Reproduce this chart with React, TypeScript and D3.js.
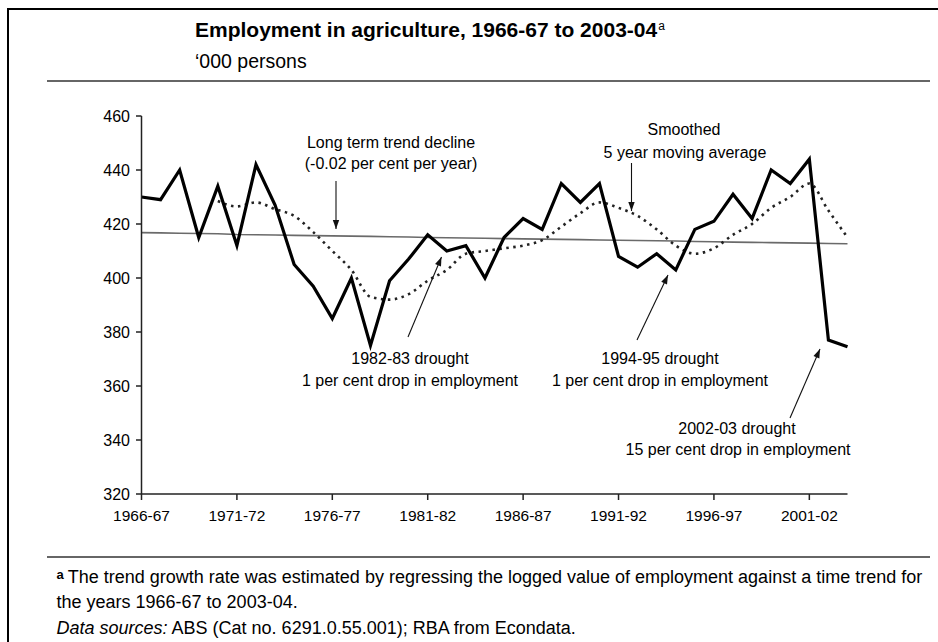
import React from "react";
import * as d3 from "d3";

const years = [
  "1966-67","1967-68","1968-69","1969-70","1970-71","1971-72","1972-73","1973-74","1974-75","1975-76",
  "1976-77","1977-78","1978-79","1979-80","1980-81","1981-82","1982-83","1983-84","1984-85","1985-86",
  "1986-87","1987-88","1988-89","1989-90","1990-91","1991-92","1992-93","1993-94","1994-95","1995-96",
  "1996-97","1997-98","1998-99","1999-00","2000-01","2001-02","2002-03","2003-04",
];

const employment = [
  430, 429, 440, 415, 434, 412, 442, 427, 405, 397,
  385, 400, 375, 399, 407, 416, 410, 412, 400, 415,
  422, 418, 435, 428, 435, 408, 404, 409, 403, 418,
  421, 431, 422, 440, 435, 444, 377, 374.5,
];

const movingAverage: (number | null)[] = [
  null, null, null, null,
  428.5, 426.5, 428, 425.5, 423, 417, 410, 403, 393, 392,
  394, 399, 403, 409, 410, 411, 412, 414, 419, 424,
  428, 426, 423, 418, 412, 409, 411, 416, 420, 426,
  430, 435, 425, 415,
];

const trend = [
  416.8, 416.7, 416.6, 416.5, 416.4, 416.1, 416.0, 415.9, 415.8, 415.7,
  415.6, 415.5, 415.4, 415.3, 415.2, 415.0, 414.9, 414.8, 414.7, 414.6,
  414.5, 414.4, 414.3, 414.2, 414.1, 414.0, 413.9, 413.8, 413.7, 413.5,
  413.4, 413.3, 413.2, 413.1, 413.0, 412.9, 412.8, 412.7,
];

const xTickLabels = ["1966-67","1971-72","1976-77","1981-82","1986-87","1991-92","1996-97","2001-02"];
const yTicks = [320, 340, 360, 380, 400, 420, 440, 460];

const FONT = "'Liberation Sans', Arial, Helvetica, sans-serif";

export default function App() {
  const W = 938, H = 642;
  const x = d3.scalePoint<string>().domain(years).range([141.5, 847.5]);
  const y = d3.scaleLinear().domain([320, 460]).range([494, 116]);

  const lineStraight = d3.line<number>()
    .x((_, i) => x(years[i]) as number)
    .y((d) => y(d));

  const maPts = movingAverage
    .map((v, i) => ({ v, i }))
    .filter((d) => d.v !== null) as { v: number; i: number }[];
  const maLine = d3.line<{ v: number; i: number }>()
    .x((d) => x(years[d.i]) as number)
    .y((d) => y(d.v))
    .curve(d3.curveMonotoneX);

  const arrows = [
    { x1: 336, y1: 181, x2: 336, y2: 229 },
    { x1: 631.5, y1: 163, x2: 631.5, y2: 211 },
    { x1: 408, y1: 337, x2: 441.5, y2: 257 },
    { x1: 637, y1: 340, x2: 668, y2: 275 },
    { x1: 790, y1: 418, x2: 820, y2: 349 },
  ];

  const arrowHead = (a: { x1: number; y1: number; x2: number; y2: number }) => {
    const ang = Math.atan2(a.y2 - a.y1, a.x2 - a.x1);
    const len = 9, half = 3.2;
    const bx = a.x2 - len * Math.cos(ang), by = a.y2 - len * Math.sin(ang);
    const px = -Math.sin(ang) * half, py = Math.cos(ang) * half;
    return `M${a.x2},${a.y2}L${bx + px},${by + py}L${bx - px},${by - py}Z`;
  };

  const annotations = [
    { x: 391, y: 142, t: "Long term trend decline" },
    { x: 391, y: 163.5, t: "(-0.02 per cent per year)" },
    { x: 684, y: 129, t: "Smoothed" },
    { x: 685, y: 152, t: "5 year moving average" },
    { x: 410, y: 358, t: "1982-83 drought" },
    { x: 410, y: 380, t: "1 per cent drop in employment" },
    { x: 660, y: 358, t: "1994-95 drought" },
    { x: 660, y: 380, t: "1 per cent drop in employment" },
    { x: 737, y: 428, t: "2002-03 drought" },
    { x: 738, y: 449, t: "15 per cent drop in employment" },
  ];

  return (
    <svg
      width={W}
      height={H}
      viewBox={`0 0 ${W} ${H}`}
      style={{ position: "fixed", left: 0, top: 0, background: "#fff" }}
      fontFamily={FONT}
    >
      <rect x={0} y={0} width={W} height={H} fill="#fff" />
      {/* frame */}
      <path d={`M8,${H}L8,9L${W + 2},9`} fill="none" stroke="#000" strokeWidth={2} />

      {/* title */}
      <text x={195} y={37} fontSize={21} fontWeight="bold" fill="#000">
        Employment in agriculture, 1966-67 to 2003-04
        <tspan fontSize={12} fontWeight="normal" dy={-7} dx={1}>a</tspan>
      </text>
      <text x={195} y={68} fontSize={19.5} fill="#000">‘000 persons</text>
      <line x1={47} x2={930} y1={81} y2={81} stroke="#333" strokeWidth={1.5} />

      {/* trend line */}
      <path d={lineStraight(trend) || ""} fill="none" stroke="#6a6a6a" strokeWidth={1.6} />
      {/* moving average */}
      <path
        d={maLine(maPts) || ""}
        fill="none"
        stroke="#222"
        strokeWidth={2.6}
        strokeDasharray="2.5,4.5"
      />
      {/* employment */}
      <path
        d={lineStraight(employment) || ""}
        fill="none"
        stroke="#000"
        strokeWidth={3.2}
        strokeLinejoin="miter"
      />

      {/* axes */}
      <line x1={141.5} x2={141.5} y1={116} y2={494} stroke="#222" strokeWidth={1.5} />
      <line x1={141.5} x2={847.5} y1={494} y2={494} stroke="#222" strokeWidth={1.5} />
      {yTicks.map((t) => (
        <g key={t}>
          <line x1={136} x2={141.5} y1={y(t)} y2={y(t)} stroke="#222" strokeWidth={1.5} />
          <text x={130} y={y(t)} dy="0.35em" textAnchor="end" fontSize={16} fill="#000">
            {t}
          </text>
        </g>
      ))}
      {xTickLabels.map((t) => (
        <g key={t}>
          <line x1={x(t)} x2={x(t)} y1={494} y2={500} stroke="#222" strokeWidth={1.5} />
          <text x={x(t)} y={521} textAnchor="middle" fontSize={15.5} fill="#000">
            {t}
          </text>
        </g>
      ))}

      {/* annotations */}
      {annotations.map((a, i) => (
        <text key={i} x={a.x} y={a.y} dy="0.35em" textAnchor="middle" fontSize={16} fill="#000">
          {a.t}
        </text>
      ))}
      {arrows.map((a, i) => (
        <g key={i}>
          <line x1={a.x1} y1={a.y1} x2={a.x2} y2={a.y2} stroke="#111" strokeWidth={1.1} />
          <path d={arrowHead(a)} fill="#111" />
        </g>
      ))}

      {/* footnote */}
      <line x1={47} x2={930} y1={557} y2={557} stroke="#333" strokeWidth={1.5} />
      <text x={56.5} y={583} fontSize={18} fill="#000">
        <tspan fontWeight="bold" fontSize={13} dy={-4}>a</tspan>
        <tspan dx={4} dy={4}>The trend growth rate was estimated by regressing the logged value of employment against a time trend for</tspan>
      </text>
      <text x={56.5} y={608} fontSize={18} fill="#000">the years 1966-67 to 2003-04.</text>
      <text x={56.5} y={634} fontSize={18} fill="#000">
        <tspan fontStyle="italic">Data sources:</tspan> ABS (Cat no. 6291.0.55.001); RBA from Econdata.
      </text>
    </svg>
  );
}
